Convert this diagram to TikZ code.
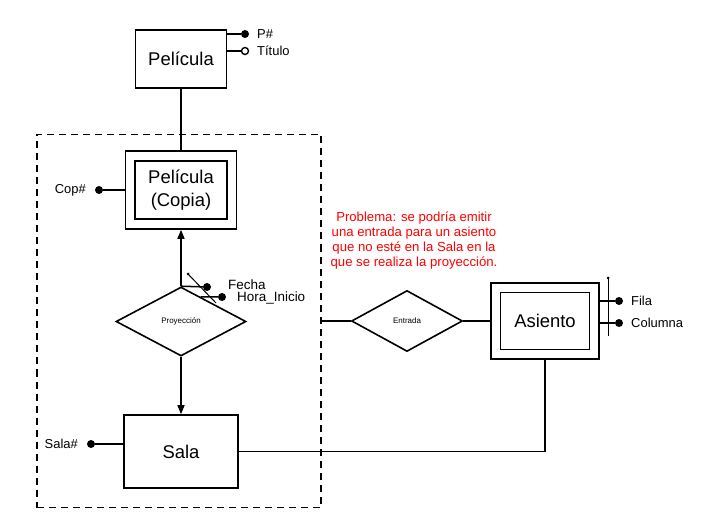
\documentclass[tikz,border=0pt]{standalone}
\usepackage{fontspec}
\setmainfont{Liberation Sans}
\usetikzlibrary{shapes.geometric,arrows.meta,calc}
\tikzset{
	ent/.style={draw,line width=1.6bp,inner sep=0pt,align=center,font=\fontsize{18.5}{22.5}\selectfont},
	marco/.style={draw,line width=1.6bp,inner sep=0pt},
	rel/.style={draw,diamond,line width=1.6bp,inner sep=0pt,font=\fontsize{8}{9}\selectfont},
	atr/.style={circle,fill,inner sep=0pt,minimum size=8bp},
	atrop/.style={circle,draw,fill=white,line width=1.4bp,inner sep=0pt,minimum size=7bp},
	etq/.style={font=\fontsize{13}{14}\selectfont,inner sep=0pt},
	pto/.style={circle,fill,inner sep=0pt,minimum size=3bp},
	con/.style={line width=1.5bp},
	flecha/.style={con,-{Triangle[length=9bp,width=7bp]}}
}
\begin{document}
\begin{tikzpicture}[x=1bp,y=-1bp]
		\useasboundingbox (0,0) rectangle (722,525);
		\node[marco,dash pattern=on 7bp off 5bp,minimum width=284bp,minimum height=373bp] (agg) at (179,321) {};
		\node[ent,minimum width=91bp,minimum height=58bp] (pel) at (181,59) {Película};
		\node[ent,minimum width=92bp,minimum height=58bp] (cop) at (181,190) {Película\\(Copia)};
		\node[marco,minimum width=111bp,minimum height=78bp] (copext) at (181,190) {};
		\node[ent,minimum width=114bp,minimum height=73bp] (sala) at (181,451.5) {Sala};
		\node[ent,minimum width=89bp,minimum height=57bp] (asi) at (545,321) {Asiento};
		\node[marco,minimum width=108bp,minimum height=76bp] (asiext) at (545,321) {};
		\node[rel,minimum width=130bp,minimum height=69bp] (proy) at (181,321.5) {Proyección};
		\node[rel,minimum width=111bp,minimum height=61bp] (entr) at (407,321) {Entrada};
		\node[text=red,align=center,font=\fontsize{13.2}{15}\selectfont] (nota) at (414,240.5) {Problema: se podría emitir\\una entrada para un asiento\\que no esté en la Sala en la\\que se realiza la proyección.};
		\draw[con] (pel) -- (copext);
		\draw[flecha] (proy.north) -- (copext.south);
		\draw[flecha] (proy.south) -- (sala.north);
		\draw[con] (agg.east) -- (entr.west);
		\draw[con] (entr.east) -- (asiext.west);
		\draw[con] (sala.east) -| (asiext.south);
		\node[atr] (pnum) at (245,34) {};
		\node[atrop] (tit) at (245,51) {};
		\draw[con] (pel.east |- pnum) -- (pnum);
		\draw[con] (pel.east |- tit) -- (tit);
		\node[etq,anchor=west] (pnumlbl) at (257,34) {P\#};
		\node[etq,anchor=west] (titlbl) at (257,51) {Título};
		\node[atr] (copnum) at (99,190) {};
		\draw[con] (copext.west) -- (copnum);
		\node[etq,anchor=east] (copnumlbl) at (86,190) {Cop\#};
		\node[atr] (salanum) at (91,444) {};
		\draw[con] (sala.west |- salanum) -- (salanum);
		\node[etq,anchor=east] (salanumlbl) at (78,444) {Sala\#};
		\node[atr] (fecha) at (207,287) {};
		\node[atr] (hora) at (222,297) {};
		\draw[con] (proy.north) -- (fecha);
		\draw[con] ($(proy.north)!0.3!(proy.east)$) -- (hora);
		\node[pto] (clavea) at (188,274) {};
		\coordinate (claveb) at (216,303);
		\draw[line width=1bp] (clavea.center) -- (claveb);
		\node[etq,anchor=west,font=\fontsize{13.5}{14}\selectfont] (fechalbl) at (228,284.5) {Fecha};
		\node[etq,anchor=west,font=\fontsize{13.5}{14}\selectfont] (horalbl) at (237,297.5) {Hora\_Inicio};
		\node[atr] (fila) at (619,301) {};
		\node[atr] (col) at (619,323) {};
		\draw[con] (asiext.east |- fila) -- (fila);
		\draw[con] (asiext.east |- col) -- (col);
		\node[pto] (clavec) at (608,278) {};
		\coordinate (claved) at (608,336);
		\draw[line width=1bp] (clavec.center) -- (claved);
		\node[etq,anchor=west] (filalbl) at (631,301) {Fila};
		\node[etq,anchor=west] (collbl) at (631,323) {Columna};
	\end{tikzpicture}
\end{document}
